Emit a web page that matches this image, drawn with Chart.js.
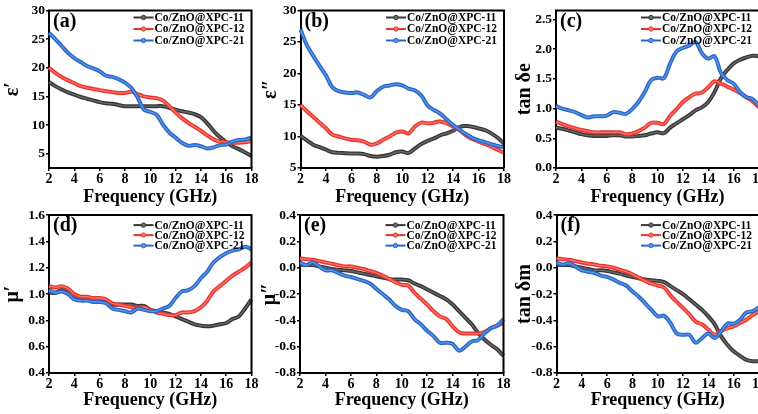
<!DOCTYPE html>
<html><head><meta charset="utf-8">
<script src="https://cdn.jsdelivr.net/npm/chart.js@4.4.1/dist/chart.umd.min.js"></script>
<style>
html,body{margin:0;padding:0;background:#fff;width:758px;height:414px;overflow:hidden;position:relative}
canvas{position:absolute;display:block}
</style></head><body>
<script>
// ---------------- DATA ----------------
const freq = [2,2.5,3,3.5,4,4.5,5,5.5,6,6.5,7,7.5,8,8.5,9,9.5,10,10.5,11,11.5,12,12.5,13,13.5,14,14.5,15,15.5,16,16.5,17,17.5,18];
const seriesNames = ['Co/ZnO@XPC-11','Co/ZnO@XPC-12','Co/ZnO@XPC-21'];
const xTicks = [2,4,6,8,10,12,14,16,18];

// (a) epsilon'
const epsReal11 = [17.5,16.8,16.2,15.7,15.3,14.9,14.6,14.3,14.0,13.8,13.7,13.5,13.3,13.3,13.3,13.3,13.3,13.3,13.3,13.0,12.7,12.4,12.2,11.9,11.4,10.3,9.0,7.9,7.0,6.3,5.8,5.2,4.6];
const epsReal12 = [20.0,19.1,18.4,17.8,17.3,16.8,16.5,16.3,16.1,15.9,15.75,15.6,15.6,15.8,15.4,15.0,14.8,14.7,14.3,13.3,12.2,11.2,10.4,9.7,9.0,8.2,7.5,7.1,7.0,6.9,6.9,7.0,7.2];
const epsReal21 = [26.1,25.0,23.8,22.6,21.7,21.0,20.3,19.9,19.4,18.6,18.4,18.0,17.4,16.5,14.8,12.7,12.3,11.8,10.1,8.7,7.8,6.9,6.4,6.5,6.3,5.9,6.1,6.5,6.6,7.1,7.4,7.5,7.8];
// (b) epsilon''
const epsImag11 = [10.1,9.4,8.7,8.3,7.9,7.5,7.4,7.35,7.3,7.3,7.2,6.9,6.8,6.9,7.1,7.5,7.6,7.4,8.1,8.8,9.3,9.7,10.2,10.5,10.9,11.5,11.65,11.55,11.3,11.0,10.5,9.8,8.9];
const epsImag12 = [15.0,14.0,13.1,12.2,11.3,10.3,10.0,9.7,9.5,9.4,9.2,8.7,8.9,9.5,10.0,10.6,10.8,10.5,11.6,12.2,12.1,12.2,12.4,12.1,11.6,11.0,10.2,9.6,9.2,8.8,8.4,7.9,7.4];
const epsImag21 = [27.0,24.5,22.8,21.2,19.7,17.8,17.2,17.0,16.9,17.0,16.6,16.2,17.2,17.9,18.1,18.3,18.1,17.6,17.3,16.5,14.9,14.2,13.6,12.7,11.8,11.1,10.4,9.8,9.4,9.1,8.8,8.5,8.3];
// (c) tan delta e
const tanE11 = [0.68,0.66,0.63,0.60,0.57,0.55,0.54,0.54,0.54,0.55,0.55,0.53,0.53,0.54,0.55,0.58,0.60,0.585,0.68,0.75,0.82,0.89,0.97,1.02,1.11,1.28,1.51,1.65,1.76,1.82,1.86,1.89,1.88];
const tanE12 = [0.78,0.74,0.70,0.67,0.64,0.62,0.60,0.60,0.60,0.60,0.60,0.57,0.58,0.62,0.68,0.76,0.76,0.74,0.88,0.99,1.11,1.19,1.25,1.27,1.36,1.46,1.42,1.37,1.32,1.26,1.19,1.12,1.02];
const tanE21 = [1.04,1.00,0.97,0.94,0.89,0.85,0.87,0.87,0.88,0.94,0.93,0.91,0.99,1.11,1.28,1.48,1.52,1.51,1.76,1.96,2.02,2.06,2.12,1.93,1.84,1.88,1.60,1.48,1.42,1.28,1.19,1.16,1.05];
// (d) mu'
const muReal11 = [1.01,1.01,1.03,1.01,0.98,0.97,0.97,0.96,0.96,0.95,0.92,0.92,0.92,0.92,0.91,0.91,0.88,0.87,0.86,0.85,0.83,0.81,0.79,0.77,0.76,0.755,0.76,0.77,0.78,0.81,0.83,0.89,0.96];
const muReal12 = [1.06,1.05,1.06,1.04,1.00,0.98,0.98,0.97,0.97,0.96,0.93,0.92,0.91,0.90,0.89,0.90,0.88,0.86,0.85,0.84,0.84,0.86,0.86,0.87,0.90,0.95,1.02,1.06,1.10,1.14,1.17,1.20,1.24];
const muReal21 = [1.03,1.01,1.02,1.00,0.96,0.95,0.95,0.94,0.94,0.93,0.89,0.88,0.87,0.86,0.89,0.88,0.87,0.87,0.89,0.91,0.97,1.02,1.03,1.06,1.12,1.17,1.24,1.28,1.31,1.33,1.34,1.36,1.34];
// (e) mu''
const muImag11 = [0.025,0.02,0.02,0.01,0.0,-0.01,-0.015,-0.02,-0.025,-0.035,-0.045,-0.055,-0.065,-0.075,-0.085,-0.09,-0.09,-0.095,-0.12,-0.14,-0.165,-0.19,-0.215,-0.24,-0.28,-0.33,-0.38,-0.43,-0.495,-0.545,-0.585,-0.62,-0.67];
const muImag12 = [0.07,0.065,0.06,0.05,0.04,0.03,0.02,0.01,0.01,0.0,-0.01,-0.025,-0.04,-0.06,-0.085,-0.11,-0.13,-0.135,-0.19,-0.235,-0.28,-0.33,-0.37,-0.39,-0.445,-0.49,-0.50,-0.50,-0.50,-0.49,-0.46,-0.44,-0.42];
const muImag21 = [0.04,0.02,0.04,0.01,-0.02,-0.02,-0.04,-0.06,-0.07,-0.085,-0.10,-0.12,-0.16,-0.20,-0.24,-0.29,-0.32,-0.33,-0.39,-0.43,-0.48,-0.52,-0.57,-0.57,-0.58,-0.63,-0.60,-0.56,-0.55,-0.50,-0.46,-0.44,-0.39];
// (f) tan delta m
const tanM11 = [0.025,0.02,0.02,0.01,0.0,-0.01,-0.02,-0.02,-0.025,-0.035,-0.045,-0.06,-0.07,-0.08,-0.09,-0.095,-0.10,-0.11,-0.14,-0.17,-0.20,-0.24,-0.28,-0.32,-0.37,-0.43,-0.52,-0.585,-0.635,-0.67,-0.70,-0.71,-0.71];
const tanM12 = [0.07,0.065,0.06,0.05,0.04,0.03,0.025,0.015,0.01,0.0,-0.015,-0.03,-0.05,-0.075,-0.10,-0.12,-0.135,-0.15,-0.21,-0.26,-0.305,-0.355,-0.41,-0.43,-0.47,-0.51,-0.48,-0.46,-0.445,-0.42,-0.395,-0.36,-0.33];
const tanM21 = [0.04,0.025,0.035,0.01,-0.02,-0.03,-0.04,-0.06,-0.07,-0.09,-0.115,-0.135,-0.18,-0.22,-0.27,-0.32,-0.37,-0.365,-0.42,-0.50,-0.51,-0.51,-0.57,-0.535,-0.50,-0.535,-0.485,-0.425,-0.425,-0.395,-0.34,-0.33,-0.30];

// tick labels
const yTicksA = [5,10,15,20,25,30];
const yTicksB = [5,10,15,20,25,30];
const yTicksC = [0,0.5,1.0,1.5,2.0,2.5];
const yLabelsC = ['0.0','0.5','1.0','1.5','2.0','2.5'];
const yTicksD = [0.4,0.6,0.8,1.0,1.2,1.4,1.6];
const yLabelsD = ['0.4','0.6','0.8','1.0','1.2','1.4','1.6'];
const yTicksE = [-0.8,-0.6,-0.4,-0.2,0.0,0.2,0.4];
const yLabelsE = ['-0.8','-0.6','-0.4','-0.2','0.0','0.2','0.4'];

// ---------------- STYLE / LAYOUT ----------------
const FONT = '"Liberation Serif","Times New Roman",serif';
const outerCol = ['#363636','#e8352d','#2a66c6'];
const innerCol = ['#6a6a6a','#ff726a','#5896e8'];

const panels = [
  {id:'a', lab:'(a)', ytitle:'ε′', series:[epsReal11,epsReal12,epsReal21], ymin:2.5, ymax:30, ticks:yTicksA, labels:yTicksA.map(String), cl:0, pl:49, pr:251.5, row:0},
  {id:'b', lab:'(b)', ytitle:'ε″', series:[epsImag11,epsImag12,epsImag21], ymin:5, ymax:30, ticks:yTicksB, labels:yTicksB.map(String), cl:258, pl:300.5, pr:504, row:0},
  {id:'c', lab:'(c)', ytitle:'tan δe', series:[tanE11,tanE12,tanE21], ymin:0, ymax:2.65, ticks:yTicksC, labels:yLabelsC, cl:512, pl:556, pr:759, row:0},
  {id:'d', lab:'(d)', ytitle:'μ′', series:[muReal11,muReal12,muReal21], ymin:0.4, ymax:1.6, ticks:yTicksD, labels:yLabelsD, cl:0, pl:49, pr:251.5, row:1},
  {id:'e', lab:'(e)', ytitle:'μ″', series:[muImag11,muImag12,muImag21], ymin:-0.8, ymax:0.4, ticks:yTicksE, labels:yLabelsE, cl:257, pl:300, pr:503.5, row:1},
  {id:'f', lab:'(f)', ytitle:'tan δm', series:[tanM11,tanM12,tanM21], ymin:-0.8, ymax:0.4, ticks:yTicksE, labels:yLabelsE, cl:512, pl:556.5, pr:759, row:1}
];
const rows = [
  {ct:0, ch:208, pt:10.5, pb:168, leg:[7,18.5,30]},
  {ct:206, ch:205, pt:215, pb:373, leg:[10,20,30.5]}
];

const deco = {
  id:'deco',
  afterDraw(chart, args, o){
    const {ctx, chartArea:{left,top,right,bottom}} = chart;
    ctx.save();
    ctx.strokeStyle='#000'; ctx.lineWidth=2;
    ctx.beginPath(); ctx.moveTo(left-1,top); ctx.lineTo(right,top); ctx.lineTo(right,bottom); ctx.stroke();
    ctx.fillStyle='#000';
    ctx.font='bold 20px '+FONT; ctx.textBaseline='middle'; ctx.textAlign='left';
    ctx.fillText(o.lab, left+4, top+11);
    ctx.font='bold 11.5px '+FONT;
    o.leg.forEach((dy,i)=>{
      const y=top+dy;
      ctx.strokeStyle=outerCol[i]; ctx.lineWidth=2;
      ctx.beginPath(); ctx.moveTo(right-118,y); ctx.lineTo(right-98,y); ctx.stroke();
      ctx.beginPath(); ctx.arc(right-108,y,2.2,0,Math.PI*2);
      ctx.fillStyle=innerCol[i]; ctx.fill(); ctx.lineWidth=1; ctx.stroke();
      ctx.fillStyle='#000';
      ctx.fillText(seriesNames[i], right-97, y+0.5);
    });
    ctx.restore();
  }
};

panels.forEach(p=>{
  const r = rows[p.row];
  const W = Math.round(p.pr + 10 - p.cl);
  const cv = document.createElement('canvas');
  cv.width = W; cv.height = r.ch;
  cv.style.left = p.cl+'px'; cv.style.top = r.ct+'px';
  cv.style.width = W+'px'; cv.style.height = r.ch+'px';
  document.body.appendChild(cv);
  const ds = [];
  p.series.forEach((arr,i)=>{
    const pts = freq.map((f,k)=>({x:f,y:arr[k]}));
    ds.push({data:pts, borderColor:outerCol[i], borderWidth:4, pointRadius:0, tension:0.35, order:10-2*i, clip:3});
    ds.push({data:pts, borderColor:innerCol[i], borderWidth:1.3, pointRadius:0, tension:0.35, order:9-2*i, clip:3});
  });
  new Chart(cv, {
    type:'line',
    data:{datasets:ds},
    options:{
      responsive:false, animation:false, devicePixelRatio:1,
      layout:{padding:{left:0, top:r.pt - r.ct, right:W-(p.pr-p.cl), bottom:0}},
      plugins:{legend:{display:false}, tooltip:{enabled:false}, deco:{lab:p.lab, leg:r.leg}},
      scales:{
        x:{type:'linear', min:2, max:18,
          afterBuildTicks:s=>{s.ticks = xTicks.map(v=>({value:v}));},
          afterFit:s=>{s.height = r.ch - (r.pb - r.ct);},
          ticks:{color:'#000', font:{family:FONT, weight:'bold', size:14}, padding:0, maxRotation:0, autoSkip:false, callback:v=>String(v)},
          grid:{drawOnChartArea:false, drawTicks:true, tickLength:3, color:'#000', lineWidth:1.5},
          border:{display:true, color:'#000', width:2},
          title:{display:true, text:'Frequency (GHz)', color:'#000', font:{family:FONT, weight:'bold', size:18}, padding:{top:0,bottom:0}}
        },
        y:{type:'linear', min:p.ymin, max:p.ymax,
          afterBuildTicks:s=>{s.ticks = p.ticks.map(v=>({value:v}));},
          afterFit:s=>{s.width = p.pl - p.cl;},
          ticks:{color:'#000', font:{family:FONT, weight:'bold', size:13.5}, padding:1, autoSkip:false, callback:(v,i)=>p.labels[i]},
          grid:{drawOnChartArea:false, drawTicks:true, tickLength:3, color:'#000', lineWidth:1.5},
          border:{display:true, color:'#000', width:2},
          title:{display:true, text:p.ytitle, color:'#000', font:{family:FONT, weight:'bold', size:20}, padding:{top:1,bottom:0}}
        }
      }
    },
    plugins:[deco]
  });
});
</script>
</body></html>
